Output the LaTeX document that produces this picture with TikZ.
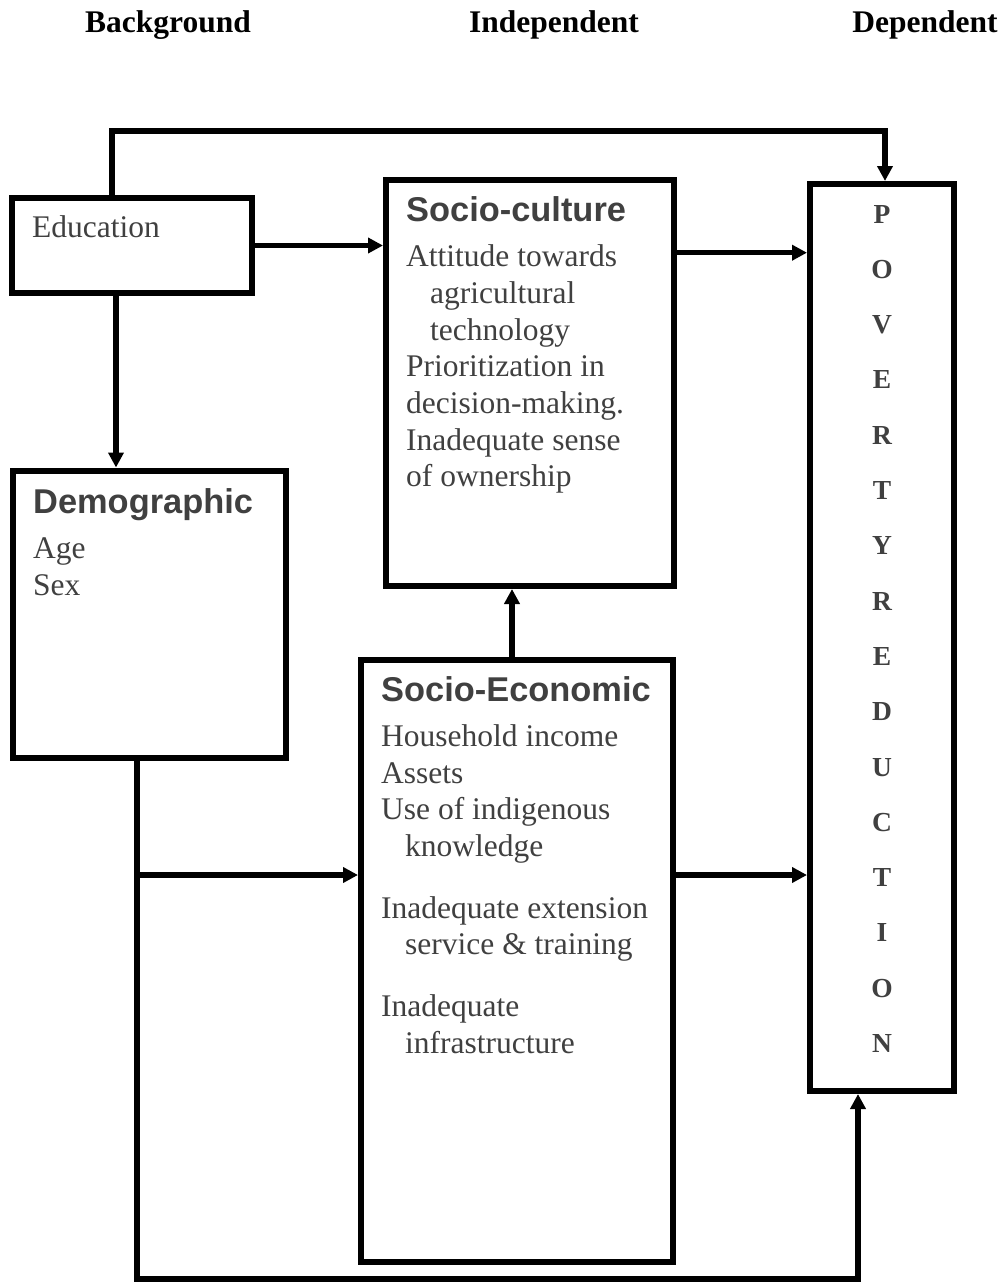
\documentclass[tikz,border=0pt]{standalone}
\usepackage{fontspec}
\setmainfont{Liberation Serif}
\newfontfamily\headsans{Liberation Sans}
\usetikzlibrary{arrows.meta}
\definecolor{txt}{HTML}{404040}
\begin{document}
\begin{tikzpicture}[x=1pt,y=-1pt,
  box/.style={draw, line width=6pt, inner sep=0pt, rectangle},
  conn/.style={line width=5.5pt, -{Triangle[length=15pt,width=15pt]}},
  body/.style={text=txt, font=\fontsize{31.5}{36.7}\selectfont, inner sep=0pt, anchor=base west, align=left},
  head/.style={text=txt, font=\headsans\bfseries\fontsize{34.4}{40}\selectfont, inner sep=0pt, anchor=base west},
  label/.style={font=\bfseries\fontsize{31.5}{36}\selectfont, inner sep=0pt, anchor=base}]
\useasboundingbox (0,0) rectangle (1005,1282);

% column labels
\node[label] (lbg) at (168,32) {Background};
\node[label] (lind) at (554,32) {Independent};
\node[label] (ldep) at (925,32) {Dependent};

% boxes
\node[box, minimum width=240pt, minimum height=95pt] (edu) at (132,245.5) {};
\node[box, minimum width=288pt, minimum height=406pt] (sc) at (530,383) {};
\node[box, minimum width=144pt, minimum height=907pt] (pov) at (882,637.5) {};
\node[box, minimum width=273pt, minimum height=287pt] (demo) at (149,614) {};
\node[box, minimum width=312pt, minimum height=602pt] (se) at (517,960.5) {};

% texts (base anchor = baseline of the last line)
\node[body] (edut) at (32,237.3) {Education};
\node[head] (sch) at (406,221) {Socio-culture};
\node[body] (sct) at (406,486.8) {Attitude towards\\\hspace*{24pt}agricultural\\\hspace*{24pt}technology\\Prioritization in\\decision-making.\\Inadequate sense\\of ownership};
\node[head] (demh) at (33,513) {Demographic};
\node[body] (demt) at (33,595) {Age\\Sex};
\node[head] (seh) at (381,701.7) {Socio-Economic};
\node[body] (set) at (381,1053.3) {Household income\\Assets\\Use of indigenous\\\hspace*{24pt}knowledge\\[25pt]Inadequate extension\\\hspace*{24pt}service \& training\\[25pt]Inadequate\\\hspace*{24pt}infrastructure};
\node[text=txt, font=\bfseries\fontsize{27.5}{55.3}\selectfont, inner sep=0pt, anchor=base, align=center] (povt) at (882,1052.5)
  {P\\O\\V\\E\\R\\T\\Y\\R\\E\\D\\U\\C\\T\\I\\O\\N};

% helper coordinates
\coordinate (topL) at (112,131);
\coordinate (topR) at (885,131);
\coordinate (ed) at (116,0);
\coordinate (y1) at (0,252.7);
\coordinate (dl) at (137,1279);
\coordinate (dr) at (858,1279);
\coordinate (br) at (137,875);
\coordinate (ss) at (512,0);

% connectors
\draw[conn] (edu.north -| topL) -- (topL) -- (topR) -- (pov.north -| topR);
\draw[conn] (edu.east) -- (edu.east -| sc.west);
\draw[conn] (sc.east |- y1) -- (pov.west |- y1);
\draw[conn] (edu.south -| ed) -- (demo.north -| ed);
\draw[conn] (demo.south -| dl) -- (dl) -- (dr) -- (pov.south -| dr);
\draw[conn] (br) -- (se.west |- br);
\draw[conn] (se.east |- br) -- (pov.west |- br);
\draw[conn] (se.north -| ss) -- (sc.south -| ss);
\end{tikzpicture}
\end{document}
